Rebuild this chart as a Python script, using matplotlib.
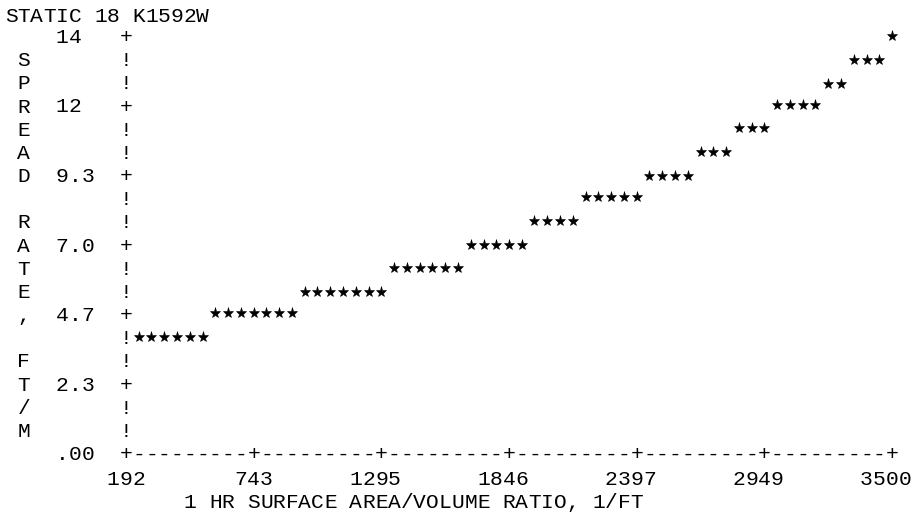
import matplotlib
matplotlib.use("Agg")
import matplotlib.pyplot as plt
from matplotlib.transforms import offset_copy

# ---- chart text ----
title = "STATIC 18 K1592W"
y_axis_title = "SPREAD RATE, FT/M"
x_axis_title = "1 HR SURFACE AREA/VOLUME RATIO, 1/FT"

# ---- axis ticks ----
x_ticks = [192, 743, 1295, 1846, 2397, 2949, 3500]
x_tick_labels = ["192", "743", "1295", "1846", "2397", "2949", "3500"]
y_ticks = [14.0, 11.67, 9.33, 7.0, 4.67, 2.33, 0.0]
y_tick_labels = ["14", "12", "9.3", "7.0", "4.7", "2.3", ".00"]

# ---- data: spread rate (ft/min) vs 1-hr surface-area-to-volume ratio (1/ft) ----
sav_ratio = [
    247, 302, 357, 413, 468, 523, 578, 633, 688, 743,
    798, 854, 909, 964, 1019, 1074, 1129, 1184, 1240, 1295,
    1350, 1405, 1460, 1515, 1570, 1625, 1681, 1736, 1791, 1846,
    1901, 1956, 2011, 2067, 2122, 2177, 2232, 2287, 2342, 2397,
    2452, 2508, 2563, 2618, 2673, 2728, 2783, 2838, 2894, 2949,
    3004, 3059, 3114, 3169, 3224, 3279, 3335, 3390, 3445, 3500,
]
spread_rate = [
    3.9, 3.9, 3.9, 3.9, 3.9, 3.9,
    4.7, 4.7, 4.7, 4.7, 4.7, 4.7, 4.7,
    5.4, 5.4, 5.4, 5.4, 5.4, 5.4, 5.4,
    6.2, 6.2, 6.2, 6.2, 6.2, 6.2,
    7.0, 7.0, 7.0, 7.0, 7.0,
    7.8, 7.8, 7.8, 7.8,
    8.6, 8.6, 8.6, 8.6, 8.6,
    9.3, 9.3, 9.3, 9.3,
    10.1, 10.1, 10.1,
    10.9, 10.9, 10.9,
    11.7, 11.7, 11.7, 11.7,
    12.4, 12.4,
    13.2, 13.2, 13.2,
    14.0,
]

# ---- line-printer character grid ----
X_MIN, X_MAX = 192, 3500
Y_MIN, Y_MAX = 0.0, 14.0
N_COLS, N_ROWS = 60, 18
col_w = (X_MAX - X_MIN) / N_COLS
row_h = (Y_MAX - Y_MIN) / N_ROWS


def col_x(c):
    return X_MIN + c * col_w


def row_y(r):
    return Y_MAX - r * row_h


fig = plt.figure(figsize=(9.15, 5.15), dpi=100)
ax = fig.add_axes([0, 0, 1, 1])
ax.set_xlim(-352.1, 3599.3)
ax.set_ylim(-2.08, 15.21)
ax.axis("off")

FONT = dict(family=["Liberation Mono", "DejaVu Sans Mono"], size=15.3,
            color="black")


def put(x, y, s, drop=0):
    """Print string s one character per cell, first cell centred at x.

    Characters sit on a baseline 7 px (plus `drop`) below the row centre.
    """
    tr = offset_copy(ax.transData, fig=fig, x=0, y=-7 - drop, units="dots")
    for i, ch in enumerate(s):
        if ch != " ":
            ax.text(x + i * col_w, y, ch, ha="center", va="baseline",
                    transform=tr, **FONT)


# title line
put(col_x(-9), row_y(-1), title, drop=2)

# vertical axis title, one letter per row
for i, ch in enumerate(y_axis_title):
    put(col_x(-8), row_y(i + 1), ch)

# y axis: '+' at ticks, '!' between
tick_rows = [round((Y_MAX - v) / row_h) for v in y_ticks]
for r in range(N_ROWS + 1):
    put(X_MIN, row_y(r), "+" if r in tick_rows else "!")
for v, lab in zip(y_ticks, y_tick_labels):
    put(col_x(-5), v, lab)

# x axis: '+' at ticks, '-' between
tick_cols = [round((v - X_MIN) / col_w) for v in x_ticks]
for c in range(1, N_COLS + 1):
    put(col_x(c), Y_MIN, "+" if c in tick_cols else "-")
for v, lab in zip(x_ticks, x_tick_labels):
    put(v - (len(lab) - 2) * col_w, row_y(N_ROWS + 1), lab, drop=2)

put(col_x(5), row_y(N_ROWS + 2), x_axis_title, drop=2)

# data points
ax.plot(sav_ratio, spread_rate, ls="none", marker="*", ms=8,
        color="black", mew=0.4)

fig.savefig("out.png", dpi=100, facecolor="white")
